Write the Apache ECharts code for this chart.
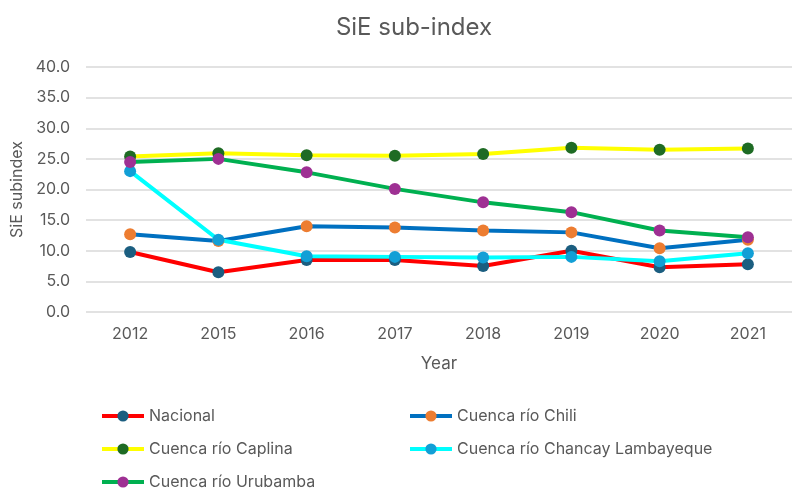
<!DOCTYPE html>
<html>
<head>
<meta charset="utf-8">
<script src="https://cdn.jsdelivr.net/npm/echarts@6/dist/echarts.min.js"></script>
<style>
  html, body { margin: 0; padding: 0; background: #fff; }
  #chart { width: 792px; height: 490px; }
</style>
</head>
<body>
<div id="chart"></div>
<script>
const years = ['2012', '2015', '2016', '2017', '2018', '2019', '2020', '2021'];
const nacional = [9.8, 6.5, 8.5, 8.5, 7.5, 10.0, 7.3, 7.8];
const chili = [12.7, 11.6, 14.0, 13.8, 13.3, 13.0, 10.4, 11.8];
const caplina = [25.4, 25.9, 25.6, 25.5, 25.8, 26.8, 26.5, 26.7];
const chancay = [23.0, 11.8, 9.1, 9.0, 8.9, 9.0, 8.3, 9.6];
const urubamba = [24.5, 25.0, 22.8, 20.1, 17.9, 16.3, 13.3, 12.2];

const textColor = '#595959';
const font = 'Inter';

function lineSeries(name, data, lineColor, markerColor) {
    return {
        name: name,
        type: 'line',
        data: data,
        symbol: 'circle',
        symbolSize: 12,
        showAllSymbol: true,
        lineStyle: { color: lineColor, width: 4 },
        itemStyle: { color: markerColor, borderWidth: 0 }
    };
}

// one legend per entry so the two columns line up like the original
function legendItem(name, left, top) {
    return {
        data: [name],
        left: left,
        top: top,
        padding: 0,
        itemWidth: 42,
        itemHeight: 14,
        lineStyle: { width: 4 },
        textStyle: { color: textColor, fontSize: 16, fontFamily: font }
    };
}

const chart = echarts.init(document.getElementById('chart'));

chart.setOption({
    animation: false,
    title: {
        text: 'SiE sub-index',
        left: 409,
        textAlign: 'center',
        top: 11,
        textStyle: { color: textColor, fontSize: 24, fontWeight: 'normal', fontFamily: font }
    },
    grid: { left: 86, top: 67, width: 715, height: 245, containLabel: false },
    xAxis: {
        type: 'category',
        data: years,
        boundaryGap: true,
        name: 'Year',
        nameLocation: 'middle',
        nameGap: 43,
        nameTextStyle: { color: textColor, fontSize: 17, fontFamily: font },
        axisLine: { show: false },
        axisTick: { show: false },
        axisLabel: { color: textColor, fontSize: 16, fontFamily: font, margin: 14 }
    },
    yAxis: {
        type: 'value',
        min: 0,
        max: 40,
        interval: 5,
        name: 'SiE subindex',
        nameLocation: 'middle',
        nameGap: 61,
        nameTextStyle: { color: textColor, fontSize: 16, fontFamily: font },
        axisLine: { show: false },
        axisTick: { show: false },
        axisLabel: {
            color: textColor, fontSize: 16, fontFamily: font, margin: 16,
            formatter: v => v.toFixed(1)
        },
        splitLine: { lineStyle: { color: '#d9d9d9', width: 1.5 } }
    },
    legend: [
        legendItem('Nacional', 100, 408),
        legendItem('Cuenca río Caplina', 100, 441),
        legendItem('Cuenca río Urubamba', 100, 474),
        legendItem('Cuenca río Chili', 408, 408),
        legendItem('Cuenca río Chancay Lambayeque', 408, 441)
    ],
    series: [
        lineSeries('Nacional', nacional, '#ff0000', '#1b5e80'),
        lineSeries('Cuenca río Chili', chili, '#0070c0', '#ed7d31'),
        lineSeries('Cuenca río Caplina', caplina, '#ffff00', '#1e6b24'),
        lineSeries('Cuenca río Chancay Lambayeque', chancay, '#00ffff', '#129fd6'),
        lineSeries('Cuenca río Urubamba', urubamba, '#00b050', '#9e3093')
    ]
});

window.addEventListener('resize', function() {
    chart.resize();
});
</script>
</body>
</html>
